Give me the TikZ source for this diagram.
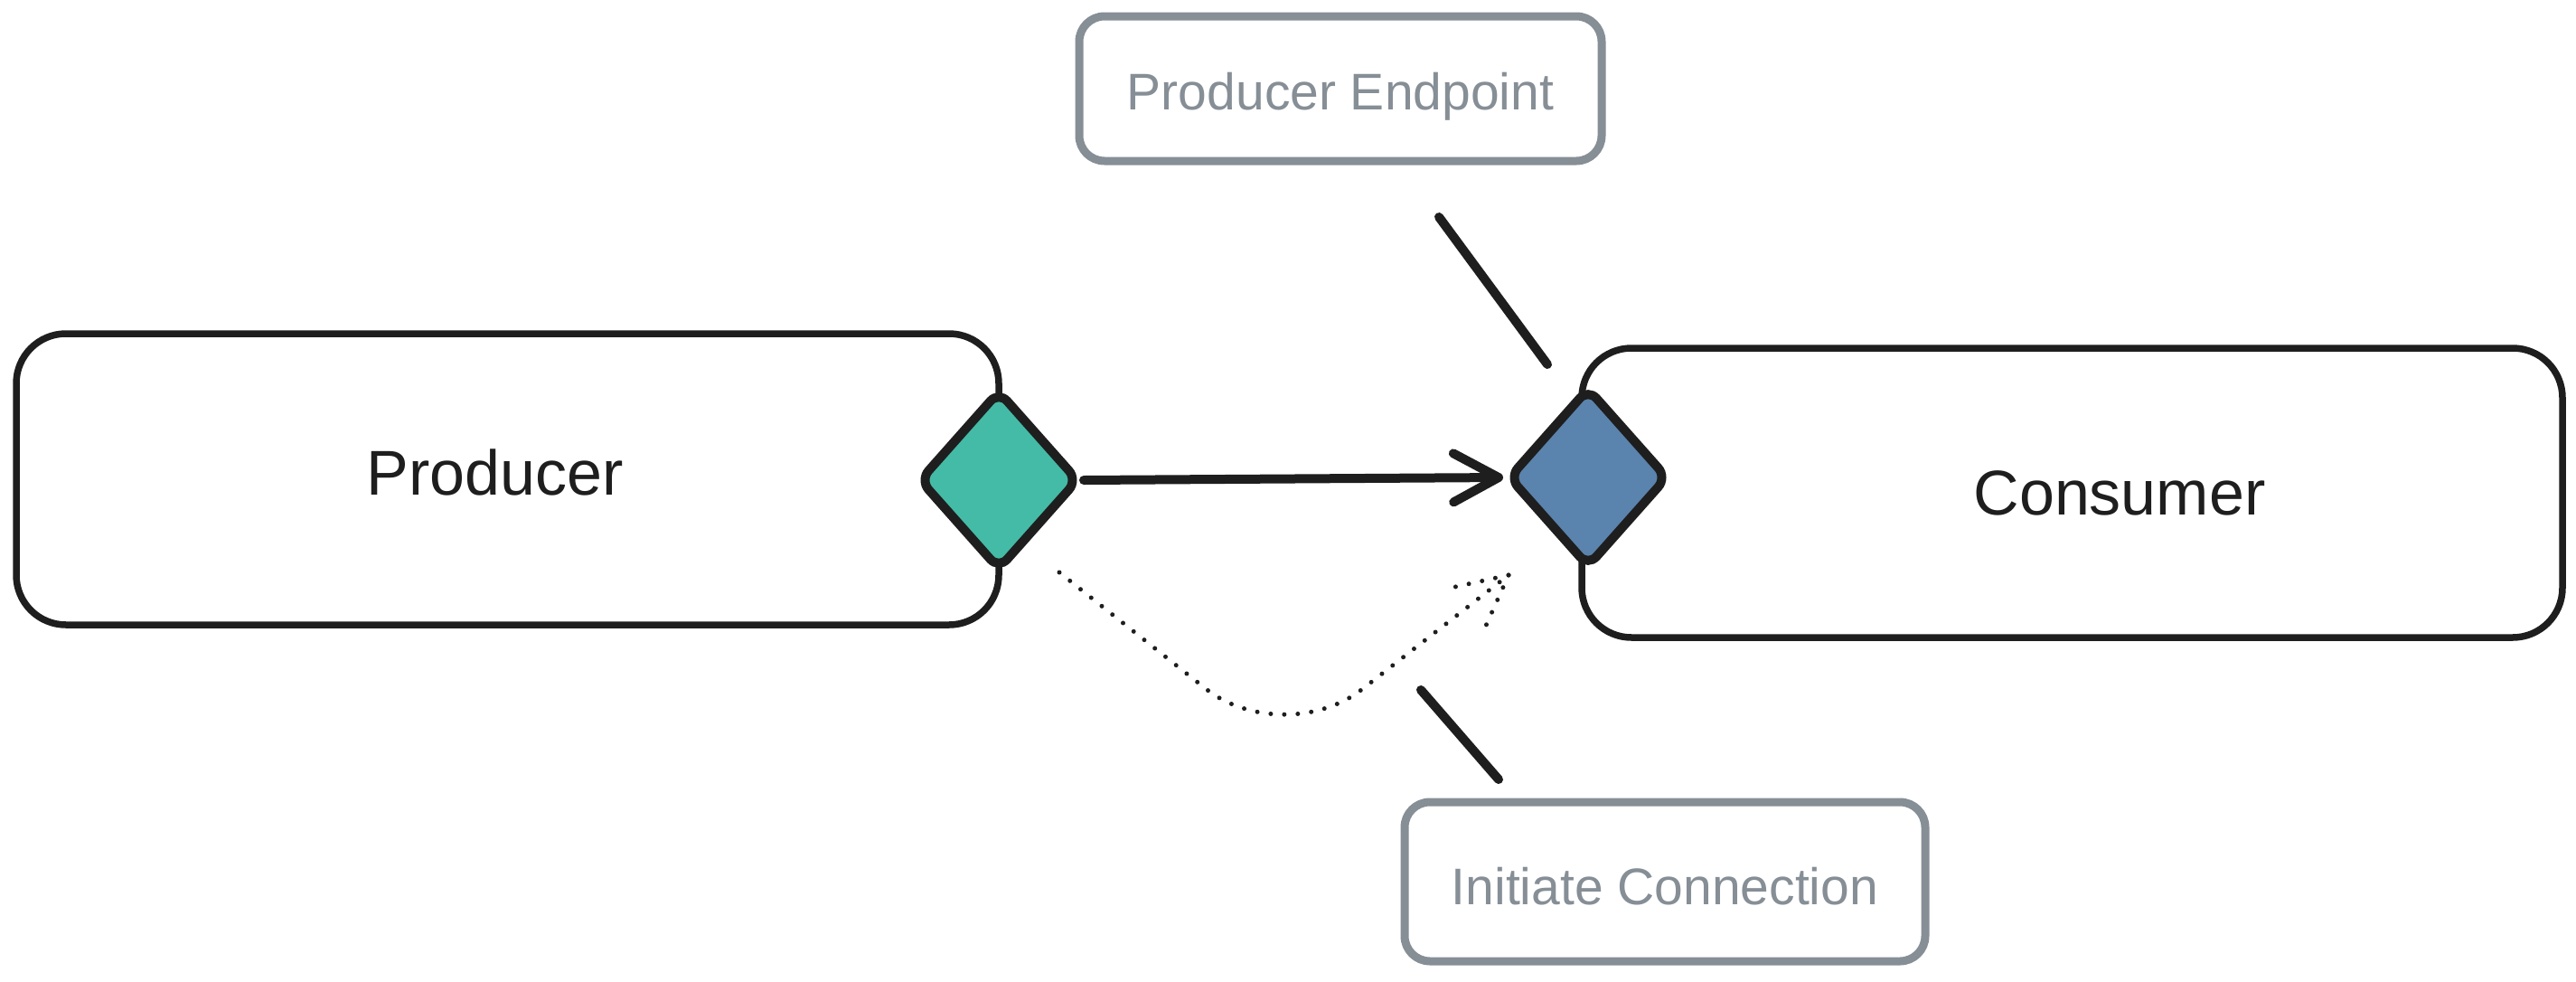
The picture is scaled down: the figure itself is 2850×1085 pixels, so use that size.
\documentclass[tikz,border=0pt]{standalone}
\usepackage{fontspec}
\setmainfont{Liberation Sans}
\usetikzlibrary{shapes.geometric,arrows.meta}
\definecolor{ink}{HTML}{1E1E1E}
\definecolor{greyc}{HTML}{868E96}
\definecolor{greenc}{HTML}{44BBA6}
\definecolor{bluec}{HTML}{5A83AD}
\tikzset{
  bigbox/.style={draw=ink, line width=7.5pt, rounded corners=55pt, fill=white, inner sep=0pt},
  bigtext/.style={font=\fontsize{70}{80}\selectfont, text=ink},
  notebox/.style={draw=greyc, line width=9pt, rounded corners=28pt, fill=white, inner sep=0pt,
                  font=\fontsize{57}{66}\selectfont, text=greyc},
  endpt/.style={diamond, draw=ink, line width=10pt, rounded corners=14pt, inner sep=0pt,
                minimum width=178pt, minimum height=200pt},
  mainarrow/.style={draw=ink, line width=10pt, line cap=round,
                    -{Straight Barb[length=50pt,width=54pt,round]}},
  dotline/.style={draw=ink, line width=5pt, line cap=round, dash pattern=on 0pt off 15pt},
  leader/.style={draw=ink, line width=10pt, line cap=round}
}
\begin{document}
\begin{tikzpicture}[x=1pt,y=-1pt]
\useasboundingbox[fill=white] (0,0) rectangle (2850,1085);
% boxes
\node[bigbox, minimum width=1087pt, minimum height=322pt] (prod) at (561.5,530) {};
\node[bigtext] (prodText) at (548,522) {Producer};
\node[bigbox, minimum width=1085pt, minimum height=320pt] (cons) at (2292.5,545) {};
\node[bigtext] (consText) at (2345,545) {Consumer};
% endpoints
\node[endpt, fill=greenc] (gd) at (1105,531) {};
\node[endpt, fill=bluec] (bd) at (1757,528) {};
% main connection
\draw[mainarrow] (gd.east) -- (bd.west);
% dotted initiation curve
\coordinate (ds) at (1172,633);
\coordinate (dv) at (1420,830);
\coordinate (de) at (1669,636);
\coordinate (db1) at (1610,649);
\coordinate (db2) at (1643,694);
\draw[dotline, rounded corners=110pt] (ds) -- (dv) -- (de);
\draw[dotline] (de) -- (db1);
\draw[dotline] (de) -- (db2);
% notes
\node[notebox, minimum width=578pt, minimum height=160pt] (pe) at (1483,98) {\raisebox{-9pt}[\height][\depth]{Producer Endpoint}};
\node[notebox, minimum width=576pt, minimum height=176pt] (ic) at (1842,975) {\raisebox{-5pt}[\height][\depth]{Initiate Connection}};
% leader lines
\coordinate (l1a) at (1592,240);
\coordinate (l1b) at (1712,403);
\coordinate (l2a) at (1572,763);
\coordinate (l2b) at (1658,862);
\draw[leader] (l1a) -- (l1b);
\draw[leader] (l2a) -- (l2b);
\end{tikzpicture}
\end{document}
